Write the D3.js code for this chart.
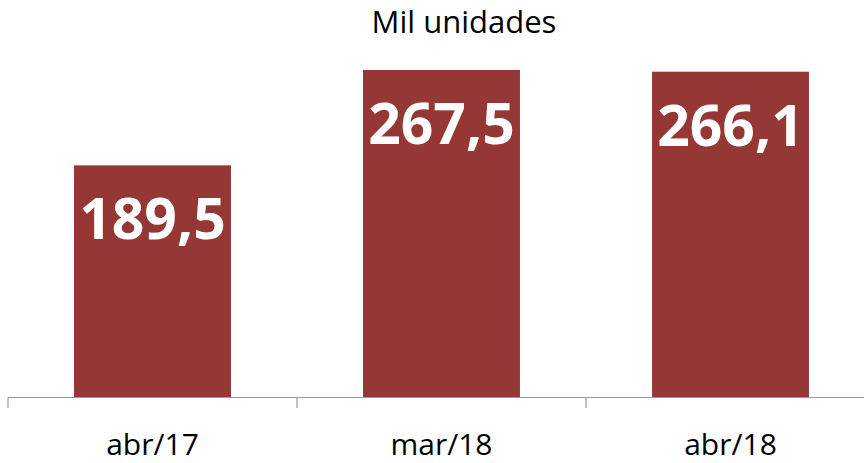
<!DOCTYPE html>
<html><head><meta charset="utf-8">
<script src="https://cdn.jsdelivr.net/npm/d3@7"></script>
<style>body{margin:0;background:#fff}svg{display:block}</style>
</head><body><svg id="c" width="864" height="463"></svg>
<script>
const categories = ["abr/17", "mar/18", "abr/18"];
const values = [189.5, 267.5, 266.1];
const labels = ["189,5", "267,5", "266,1"];
const title = "Mil unidades";

const svg = d3.select("#c");
const font = "'Open Sans', sans-serif";
const x = d3.scaleBand().domain(categories).range([8, 875]).paddingInner(0.457).paddingOuter(0.2285);
const y = d3.scaleLinear().domain([0, 267.5]).range([397, 70]);

svg.append("g").selectAll("rect").data(values).join("rect")
  .attr("x", (d,i) => x(categories[i]))
  .attr("width", x.bandwidth())
  .attr("y", d => y(d))
  .attr("height", d => y(0) - y(d))
  .attr("fill", "#953735");

svg.append("g").selectAll("text").data(values).join("text")
  .attr("x", (d,i) => x(categories[i]) + x.bandwidth()/2)
  .attr("y", d => y(d) + 74)
  .attr("text-anchor", "middle")
  .attr("fill", "#fff")
  .attr("font-family", font)
  .attr("font-weight", "bold")
  .attr("font-size", 57)
  .text((d,i) => labels[i]);

// axis
const ax = svg.append("g").attr("stroke", "#9a9a9a").attr("stroke-width", 1.2);
ax.append("line").attr("x1", 8).attr("x2", 875).attr("y1", 397.5).attr("y2", 397.5);
const tickPos = categories.map(c => x(c) - x.step()*x.paddingInner()/2).concat([875]);
ax.selectAll("line.t").data(tickPos).join("line").attr("class","t")
  .attr("x1", d => d).attr("x2", d => d).attr("y1", 397.5).attr("y2", 408);

svg.append("g").selectAll("text").data(categories).join("text")
  .attr("x", d => x(d) + x.bandwidth()/2)
  .attr("y", 455)
  .attr("text-anchor", "middle")
  .attr("fill", "#000")
  .attr("font-family", font)
  .attr("font-size", 30)
  .text(d => d);

svg.append("text").attr("x", 464).attr("y", 33).attr("text-anchor", "middle")
  .attr("font-family", font).attr("font-size", 31).attr("fill", "#000").text(title);
</script></body></html>
